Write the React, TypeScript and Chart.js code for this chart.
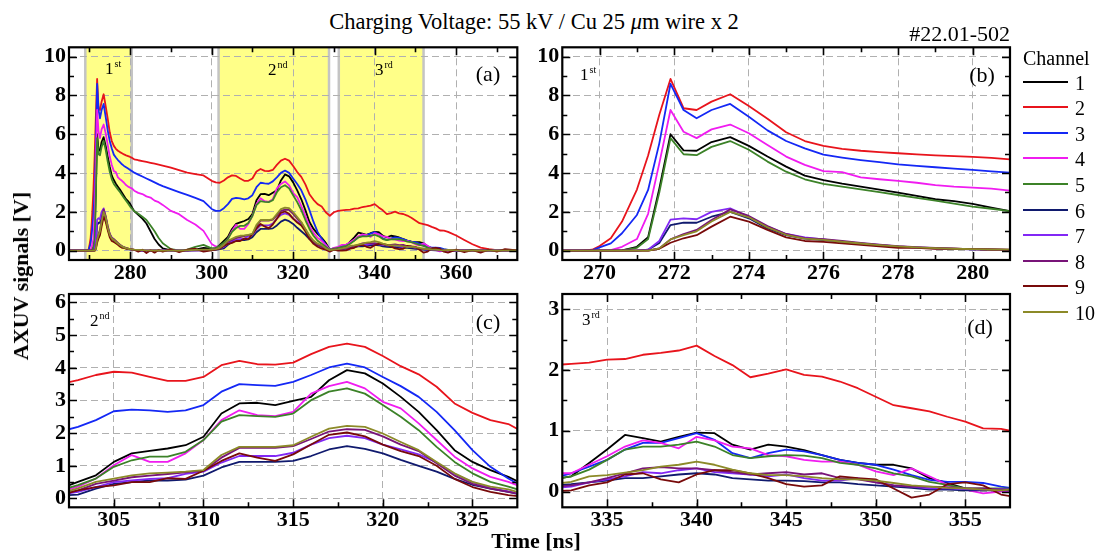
import React, { useEffect, useRef } from "react";
import { Chart, registerables } from "chart.js";

Chart.register(...registerables);

// ---------------- DATA ----------------
const TIME = [
  265, 267, 268.5, 269.5, 269.8, 270, 270.3, 270.6, 271, 271.3, 271.6, 271.9, 272.25, 272.6, 273, 273.5, 274, 274.5, 275, 275.5, 276, 276.5, 277, 277.5, 278, 278.5, 279, 279.5, 280, 280.5, 281,
  282, 283, 284, 285, 286, 287, 288, 290, 292, 294, 296, 298, 300, 301, 302,
  303, 304, 305, 306, 307, 308, 309, 310, 311, 312, 313, 314, 315, 316, 317, 318, 319, 320, 321, 322, 323, 324, 325, 326, 327,
  328, 329, 330, 331, 332,
  333, 334, 335, 336, 337, 338, 339, 340, 341, 342, 343, 344, 345, 346, 347, 348, 349, 350, 351, 352, 353, 354, 355, 356, 357, 358,
  360, 362, 364, 366, 368, 370, 372, 375,
];

const CH1 = [
  0, 0, 0, 0, 0, 0, 0, 0.02, 0.2, 0.7, 3.2, 6.0, 5.17, 5.15, 5.6, 5.85, 5.4, 4.85, 4.33, 3.87, 3.64, 3.45, 3.3, 3.15, 2.99, 2.82, 2.65, 2.55, 2.41, 2.22, 2.04,
  1.85, 1.65, 1.4, 1.0, 0.6, 0.32, 0.12, 0.02, 0.0, 0.02, 0.05, 0.15, 0.1, 0.12, 0.3,
  0.51, 0.71, 1.12, 1.38, 1.46, 1.53, 1.63, 1.89, 2.6, 2.91, 2.93, 2.86, 2.99, 3.11, 3.62, 3.93, 3.83, 3.52, 3.11, 2.65, 2.09, 1.48, 1.12, 0.87, 0.66,
  0.4, 0.05, 0.12, 0.15, 0.2,
  0.25, 0.47, 0.69, 0.93, 0.88, 0.82, 0.9, 0.97, 0.96, 0.77, 0.69, 0.77, 0.74, 0.68, 0.6, 0.52, 0.47, 0.44, 0.44, 0.38, 0.22, 0.14, 0.05, 0.03, 0.03, 0.02,
  0.02, 0.0, 0.03, 0.0, 0.02, 0.0, 0.03, 0.01,
];
const CH2 = [
  0, 0, 0, 0, 0.05, 0.24, 0.64, 1.5, 3.15, 4.9, 7.0, 8.85, 7.34, 7.25, 7.68, 8.06, 7.45, 6.8, 6.1, 5.65, 5.4, 5.25, 5.15, 5.08, 5.02, 4.96, 4.91, 4.87, 4.83, 4.78, 4.71,
  4.66, 4.62, 4.58, 4.53, 4.48, 4.43, 4.38, 4.28, 4.15, 4.02, 3.95, 3.88, 3.6, 3.52, 3.5,
  3.62, 3.78, 3.88, 3.85, 3.72, 3.6, 3.6, 3.72, 4.08, 4.21, 4.11, 4.1, 4.16, 4.42, 4.64, 4.74, 4.64, 4.36, 4.05, 3.8, 3.42, 2.91, 2.62, 2.4, 2.28,
  1.98, 1.8, 1.98, 2.05, 2.08,
  2.1, 2.12, 2.17, 2.18, 2.25, 2.28, 2.32, 2.4, 2.23, 2.08, 1.88, 1.94, 2.01, 1.92, 1.89, 1.81, 1.7, 1.56, 1.42, 1.37, 1.32, 1.23, 1.15, 1.04, 1.03, 0.97,
  0.78, 0.55, 0.33, 0.16, 0.08, 0.03, 0.0, 0.02,
];
const CH3 = [
  0, 0, 0, 0, 0.02, 0.17, 0.38, 0.9, 1.84, 3.13, 5.53, 8.6, 7.25, 6.82, 7.25, 7.56, 6.9, 6.2, 5.65, 5.27, 4.95, 4.8, 4.67, 4.56, 4.45, 4.37, 4.3, 4.23, 4.16, 4.09, 4.02,
  3.92, 3.82, 3.72, 3.62, 3.52, 3.42, 3.33, 3.17, 3.02, 2.88, 2.72, 2.55, 2.15, 2.05, 2.05,
  2.19, 2.4, 2.67, 2.72, 2.7, 2.65, 2.7, 2.86, 3.27, 3.5, 3.47, 3.45, 3.57, 3.78, 4.01, 4.13, 4.01, 3.72, 3.44, 3.11, 2.65, 2.09, 1.48, 0.97, 0.61,
  0.3, 0.05, 0.12, 0.15, 0.22,
  0.3, 0.41, 0.52, 0.69, 0.8, 0.8, 0.88, 0.96, 0.85, 0.63, 0.55, 0.63, 0.69, 0.66, 0.6, 0.52, 0.47, 0.44, 0.36, 0.27, 0.19, 0.16, 0.16, 0.14, 0.08, 0.04,
  0.02, 0.0, 0.03, 0.0, 0.02, 0.0, 0.03, 0.0,
];
const CH4 = [
  0, 0, 0, 0, 0, 0, 0.03, 0.2, 0.6, 1.9, 4.5, 7.25, 6.13, 5.8, 6.25, 6.5, 6.05, 5.45, 4.85, 4.42, 4.1, 4.05, 3.78, 3.68, 3.6, 3.5, 3.38, 3.3, 3.25, 3.2, 3.09,
  2.98, 2.92, 2.8, 2.74, 2.58, 2.5, 2.36, 2.05, 1.88, 1.58, 1.35, 1.02, 0.35, 0.22, 0.2,
  0.36, 0.61, 1.02, 1.33, 1.12, 1.12, 1.38, 1.79, 2.4, 2.7, 2.55, 2.52, 2.65, 3.21, 3.44, 3.57, 3.37, 2.96, 2.76, 2.3, 1.79, 1.28, 0.92, 0.66, 0.51,
  0.3, 0.05, 0.15, 0.2, 0.3,
  0.3, 0.44, 0.58, 0.74, 0.84, 0.8, 0.71, 0.9, 0.84, 0.74, 0.71, 0.6, 0.58, 0.52, 0.49, 0.49, 0.44, 0.33, 0.27, 0.38, 0.25, 0.11, 0.03, -0.03, 0.0, 0.02,
  0.0, 0.03, -0.02, 0.02, 0.0, 0.03, -0.02, 0.01,
];
const CH5 = [
  0, 0, 0, 0, 0, 0, 0, 0.02, 0.15, 0.6, 3.0, 5.8, 4.97, 4.92, 5.35, 5.65, 5.2, 4.59, 4.07, 3.68, 3.44, 3.3, 3.16, 3.02, 2.87, 2.72, 2.58, 2.43, 2.27, 2.16, 2.04,
  1.9, 1.75, 1.58, 1.3, 1.0, 0.65, 0.38, 0.08, 0.02, 0.05, 0.2, 0.3, 0.12, 0.15, 0.25,
  0.41, 0.61, 0.97, 1.17, 1.28, 1.28, 1.43, 1.79, 2.35, 2.55, 2.52, 2.5, 2.6, 3.01, 3.27, 3.37, 3.21, 2.86, 2.5, 2.09, 1.58, 1.12, 0.77, 0.51, 0.36,
  0.2, 0.05, 0.1, 0.15, 0.2,
  0.25, 0.36, 0.52, 0.69, 0.74, 0.74, 0.77, 0.82, 0.74, 0.6, 0.55, 0.58, 0.6, 0.59, 0.55, 0.47, 0.44, 0.38, 0.3, 0.25, 0.16, 0.11, 0.05, 0.05, 0.05, 0.04,
  0.02, 0.0, 0.02, 0.0, 0.01, 0.02, 0.0, 0.01,
];
const CH6 = [
  0, 0, 0, 0, 0, 0, 0, 0, 0, 0.05, 0.4, 1.32, 1.44, 1.44, 1.75, 2.0, 1.67, 1.15, 0.8, 0.62, 0.55, 0.45, 0.36, 0.28, 0.21, 0.16, 0.12, 0.09, 0.07, 0.05, 0.04,
  0.02, 0.01, 0.0, 0.0, 0.01, 0.0, 0.0, 0.02, 0.0, 0.0, 0.02, 0.03, 0.03, 0.05, 0.08,
  0.12, 0.3, 0.45, 0.5, 0.55, 0.55, 0.58, 0.7, 0.95, 1.12, 1.12, 1.12, 1.15, 1.3, 1.5, 1.6, 1.52, 1.38, 1.18, 1.0, 0.82, 0.6, 0.42, 0.3, 0.2,
  0.08, 0.02, 0.05, 0.08, 0.1,
  0.12, 0.15, 0.18, 0.22, 0.22, 0.25, 0.28, 0.3, 0.28, 0.22, 0.2, 0.18, 0.18, 0.17, 0.15, 0.15, 0.12, 0.1, 0.08, 0.06, 0.03, 0.03, 0.02, 0.02, 0.02, 0.02,
  0.01, 0.0, 0.02, 0.0, 0.01, 0.0, 0.02, 0.0,
];
const CH7 = [
  0, 0, 0, 0, 0, 0, 0, 0, 0, 0.05, 0.5, 1.6, 1.67, 1.62, 2.0, 2.18, 1.75, 1.24, 0.86, 0.68, 0.58, 0.47, 0.38, 0.3, 0.22, 0.17, 0.13, 0.1, 0.07, 0.05, 0.03,
  0.02, 0.0, 0.01, 0.0, 0.02, 0.0, 0.01, 0.0, 0.02, 0.0, 0.03, 0.02, 0.05, 0.08, 0.12,
  0.2, 0.35, 0.5, 0.55, 0.6, 0.62, 0.75, 0.82, 1.1, 1.3, 1.3, 1.3, 1.4, 1.65, 1.85, 1.92, 1.85, 1.65, 1.5, 1.35, 1.1, 0.75, 0.5, 0.32, 0.22,
  0.1, 0.03, 0.05, 0.05, 0.06,
  0.08, 0.15, 0.2, 0.25, 0.32, 0.3, 0.35, 0.38, 0.32, 0.3, 0.28, 0.25, 0.28, 0.22, 0.18, 0.18, 0.22, 0.15, 0.1, 0.08, 0.05, 0.05, 0.04, 0.03, 0.04, 0.03,
  0.02, 0.0, -0.02, 0.01, 0.0, 0.02, 0.0, 0.01,
];
const CH8 = [
  0, 0, 0, 0, 0, 0, 0, 0, 0, 0, 0.12, 0.58, 0.86, 1.07, 1.58, 2.13, 1.79, 1.27, 0.86, 0.65, 0.6, 0.5, 0.4, 0.31, 0.23, 0.18, 0.14, 0.1, 0.08, 0.06, 0.04,
  0.03, 0.01, 0.0, 0.02, 0.0, 0.01, 0.0, 0.02, 0.0, 0.01, 0.03, 0.02, 0.04, 0.08, 0.12,
  0.25, 0.45, 0.55, 0.65, 0.7, 0.75, 0.8, 0.85, 1.25, 1.55, 1.55, 1.55, 1.6, 1.82, 2.05, 2.12, 2.1, 1.9, 1.65, 1.45, 1.08, 0.7, 0.45, 0.3, 0.2,
  0.1, 0.03, 0.05, 0.07, 0.08,
  0.1, 0.15, 0.22, 0.3, 0.38, 0.4, 0.38, 0.38, 0.35, 0.32, 0.28, 0.3, 0.32, 0.28, 0.3, 0.22, 0.2, 0.15, 0.1, 0.08, 0.08, 0.07, 0.05, 0.05, 0.03, 0.03,
  0.02, 0.01, 0.0, 0.02, 0.0, 0.01, 0.02, 0.0,
];
const CH9 = [
  0, 0, 0, 0, 0, 0, 0, 0, 0, 0, 0.1, 0.41, 0.64, 0.8, 1.24, 1.75, 1.5, 1.07, 0.69, 0.5, 0.45, 0.38, 0.3, 0.22, 0.15, 0.14, 0.1, 0.1, 0.08, 0.06, 0.05,
  -0.05, 0.05, -0.12, 0.02, -0.1, 0.03, -0.05, 0.08, -0.08, 0.05, 0.1, -0.05, 0.02, 0.05, 0.1,
  0.25, 0.35, 0.4, 0.5, 0.5, 0.62, 0.6, 0.85, 1.15, 1.38, 1.25, 1.15, 1.35, 1.65, 1.95, 2.02, 1.9, 1.65, 1.45, 1.3, 1.0, 0.6, 0.35, 0.2, 0.1,
  0.05, -0.05, 0.05, 0.0, 0.0,
  0.02, 0.1, 0.15, 0.28, 0.3, 0.2, 0.15, 0.28, 0.35, 0.35, 0.3, 0.22, 0.12, 0.08, 0.1, 0.25, 0.22, 0.2, 0.05, -0.1, -0.05, 0.12, 0.15, 0.1, -0.05, -0.1,
  0.05, -0.08, 0.03, -0.1, 0.05, -0.05, 0.08, 0.02,
];
const CH10 = [
  0, 0, 0, 0, 0, 0, 0, 0, 0, 0, 0.12, 0.58, 0.8, 1.0, 1.5, 2.0, 1.72, 1.2, 0.82, 0.62, 0.56, 0.46, 0.37, 0.29, 0.22, 0.17, 0.13, 0.1, 0.08, 0.06, 0.05,
  0.04, 0.03, 0.02, 0.02, 0.01, 0.01, 0.0, 0.0, 0.01, 0.02, 0.04, 0.05, 0.06, 0.08, 0.15,
  0.31, 0.51, 0.61, 0.71, 0.77, 0.79, 0.82, 0.87, 1.33, 1.58, 1.58, 1.58, 1.63, 1.89, 2.14, 2.22, 2.19, 1.99, 1.73, 1.48, 1.12, 0.77, 0.51, 0.36, 0.28,
  0.12, 0.03, 0.06, 0.08, 0.12,
  0.16, 0.25, 0.27, 0.31, 0.35, 0.41, 0.44, 0.49, 0.44, 0.36, 0.3, 0.27, 0.27, 0.25, 0.22, 0.2, 0.2, 0.18, 0.14, 0.1, 0.08, 0.06, 0.05, 0.03, 0.02, 0.04,
  0.02, 0.0, 0.01, 0.02, 0.0, 0.01, 0.0, 0.01,
];

const SERIES = [CH1, CH2, CH3, CH4, CH5, CH6, CH7, CH8, CH9, CH10];
const CHANNELS = ["1", "2", "3", "4", "5", "6", "7", "8", "9", "10"];
const COLORS = ["#000000", "#e8141c", "#1428f5", "#f01cf0", "#3c8228", "#101a6e", "#8228f5", "#781478", "#780a0a", "#8c8a28"];

const BANDS_A: [number, number][] = [[269, 280.4], [301.7, 328.8], [331.2, 352]];

const X_TICKS_A = [280, 300, 320, 340, 360];
const X_MINOR_A = [270, 290, 310, 330, 350, 370];
const X_TICKS_B = [270, 272, 274, 276, 278, 280];
const X_MINOR_B = [271, 273, 275, 277, 279];
const X_TICKS_C = [305, 310, 315, 320, 325];
const X_MINOR_C = [307.5, 312.5, 317.5, 322.5];
const X_TICKS_D = [335, 340, 345, 350, 355];
const X_MINOR_D = [337.5, 342.5, 347.5, 352.5];
const Y_TICKS_AB = [0, 2, 4, 6, 8, 10];
const Y_MINOR_AB = [1, 3, 5, 7, 9];
const Y_TICKS_C = [0, 1, 2, 3, 4, 5, 6];
const Y_MINOR_C = [0.5, 1.5, 2.5, 3.5, 4.5, 5.5];
const Y_TICKS_D = [0, 1, 2, 3];
const Y_MINOR_D = [0.5, 1.5, 2.5];

// ---------------- LAYOUT ----------------
const FONT = "Liberation Serif";
Chart.defaults.font.family = FONT;

const PANELS = [
  { left: 0, top: 40, w: 530, h: 260, pad: { left: 0, top: 7.3, right: 12.7, bottom: 0 }, yW: 69, xH: 40,
    xMin: 265, xMax: 375, yMin: -0.48, yMax: 10.48, xMajor: X_TICKS_A, xMinor: X_MINOR_A, yMajor: Y_TICKS_AB, yMinor: Y_MINOR_AB, bands: BANDS_A },
  { left: 530, top: 40, w: 490, h: 260, pad: { left: 0, top: 7.3, right: 10, bottom: 0 }, yW: 32.3, xH: 40,
    xMin: 269, xMax: 281, yMin: -0.48, yMax: 10.48, xMajor: X_TICKS_B, xMinor: X_MINOR_B, yMajor: Y_TICKS_AB, yMinor: Y_MINOR_AB, bands: [] },
  { left: 0, top: 287, w: 530, h: 266, pad: { left: 0, top: 7, right: 12.7, bottom: 0 }, yW: 69, xH: 45.7,
    xMin: 302.5, xMax: 327.5, yMin: -0.27, yMax: 6.26, xMajor: X_TICKS_C, xMinor: X_MINOR_C, yMajor: Y_TICKS_C, yMinor: Y_MINOR_C, bands: [] },
  { left: 530, top: 287, w: 490, h: 266, pad: { left: 0, top: 7, right: 10, bottom: 0 }, yW: 32.3, xH: 45.7,
    xMin: 332.5, xMax: 357.5, yMin: -0.26, yMax: 3.25, xMajor: X_TICKS_D, xMinor: X_MINOR_D, yMajor: Y_TICKS_D, yMinor: Y_MINOR_D, bands: [] },
];

function makeChart(canvas: HTMLCanvasElement, p: any) {
  const datasets = SERIES.map((vals, i) => ({
    label: CHANNELS[i],
    data: TIME.map((t, k) => ({ x: t, y: vals[k] })),
    borderColor: COLORS[i],
    backgroundColor: COLORS[i],
    borderWidth: 1.8,
    borderJoinStyle: "round" as const,
    pointRadius: 0,
    tension: 0,
    fill: false,
    clip: 0,
    order: 9 - i,
  }));

  const bandsPlugin = {
    id: "bandsPlugin",
    beforeDraw(chart: any) {
      if (!p.bands.length) return;
      const { ctx, chartArea } = chart;
      const xs = chart.scales.x;
      ctx.save();
      for (const [a, b] of p.bands) {
        const xa = xs.getPixelForValue(a);
        const xb = xs.getPixelForValue(b);
        ctx.fillStyle = "#ffff88";
        ctx.fillRect(xa, chartArea.top, xb - xa, chartArea.bottom - chartArea.top);
        ctx.strokeStyle = "#c4c4c4";
        ctx.lineWidth = 2.5;
        ctx.beginPath();
        ctx.moveTo(xa, chartArea.top);
        ctx.lineTo(xa, chartArea.bottom);
        ctx.moveTo(xb, chartArea.top);
        ctx.lineTo(xb, chartArea.bottom);
        ctx.stroke();
      }
      ctx.restore();
    },
  };

  const framePlugin = {
    id: "framePlugin",
    afterDatasetsDraw(chart: any) {
      const { ctx, chartArea: a } = chart;
      const xs = chart.scales.x;
      const ys = chart.scales.y;
      ctx.save();
      ctx.strokeStyle = "#000";
      ctx.lineWidth = 1.6;
      ctx.beginPath();
      const xt = (vals: number[], len: number) => {
        for (const v of vals) {
          const px = Math.round(xs.getPixelForValue(v)) + 0.5;
          ctx.moveTo(px, a.bottom);
          ctx.lineTo(px, a.bottom - len);
          ctx.moveTo(px, a.top);
          ctx.lineTo(px, a.top + len);
        }
      };
      const yt = (vals: number[], len: number) => {
        for (const v of vals) {
          const py = Math.round(ys.getPixelForValue(v)) + 0.5;
          ctx.moveTo(a.left, py);
          ctx.lineTo(a.left + len, py);
          ctx.moveTo(a.right, py);
          ctx.lineTo(a.right - len, py);
        }
      };
      xt(p.xMajor, 8);
      xt(p.xMinor, 5);
      yt(p.yMajor, 8);
      yt(p.yMinor, 5);
      ctx.stroke();
      ctx.lineWidth = 2.2;
      ctx.strokeRect(a.left, a.top, a.right - a.left, a.bottom - a.top);
      ctx.restore();
    },
  };

  const tickFont = { family: FONT, size: 22, weight: "bold" as const };

  return new Chart(canvas, {
    type: "line",
    data: { datasets },
    options: {
      animation: false,
      responsive: false,
      maintainAspectRatio: false,
      devicePixelRatio: 1,
      events: [],
      layout: { padding: p.pad },
      plugins: { legend: { display: false }, tooltip: { enabled: false }, title: { display: false } },
      scales: {
        x: {
          type: "linear",
          min: p.xMin,
          max: p.xMax,
          afterBuildTicks: (ax: any) => {
            ax.ticks = p.xMajor.map((v: number) => ({ value: v }));
          },
          afterFit: (s: any) => {
            s.height = p.xH;
            s.paddingLeft = 0;
            s.paddingRight = 0;
            s.paddingTop = 0;
            s.paddingBottom = 0;
          },
          grid: { color: "#b0b0b0", lineWidth: 1, drawTicks: false },
          border: { display: false, dash: [7, 4] },
          ticks: { font: tickFont, color: "#000", padding: 0, maxRotation: 0, autoSkip: false },
        },
        y: {
          type: "linear",
          min: p.yMin,
          max: p.yMax,
          afterBuildTicks: (ax: any) => {
            ax.ticks = p.yMajor.map((v: number) => ({ value: v }));
          },
          afterFit: (s: any) => {
            s.width = p.yW;
            s.paddingLeft = 0;
            s.paddingRight = 0;
            s.paddingTop = 0;
            s.paddingBottom = 0;
          },
          grid: { color: "#b0b0b0", lineWidth: 1, drawTicks: false },
          border: { display: false, dash: [7, 4] },
          ticks: { font: tickFont, color: "#000", padding: 3, autoSkip: false },
        },
      },
    },
    plugins: [bandsPlugin, framePlugin],
  } as any);
}

const centered = (x: number, y: number, extra: any = {}) => ({
  position: "absolute" as const,
  left: x,
  top: y,
  transform: "translate(-50%, -50%)",
  whiteSpace: "nowrap" as const,
  lineHeight: 1,
  ...extra,
});

const leftMid = (x: number, y: number, extra: any = {}) => ({
  position: "absolute" as const,
  left: x,
  top: y,
  transform: "translate(0, -50%)",
  whiteSpace: "nowrap" as const,
  lineHeight: 1,
  ...extra,
});

function Ordinal({ x, y, n, s }: { x: number; y: number; n: string; s: string }) {
  return (
    <div style={leftMid(x, y, { fontSize: 17 })}>
      {n}
      <span style={{ fontSize: 10, position: "relative", top: -7, marginLeft: 1 }}>{s}</span>
    </div>
  );
}

const LEGEND_TOP = 81.7;
const LEGEND_STEP = 25.56;

export default function App() {
  const r0 = useRef<HTMLCanvasElement>(null);
  const r1 = useRef<HTMLCanvasElement>(null);
  const r2 = useRef<HTMLCanvasElement>(null);
  const r3 = useRef<HTMLCanvasElement>(null);
  const refs = [r0, r1, r2, r3];

  useEffect(() => {
    const charts = PANELS.map((p, i) => makeChart(refs[i].current as HTMLCanvasElement, p));
    return () => charts.forEach((c) => c.destroy());
  }, []);

  return (
    <div
      style={{
        position: "absolute",
        left: 0,
        top: 0,
        width: 1098,
        height: 553,
        background: "#fff",
        fontFamily: '"Liberation Serif", serif',
        color: "#000",
        overflow: "hidden",
      }}
    >
      {PANELS.map((p, i) => (
        <canvas
          key={i}
          ref={refs[i]}
          width={p.w}
          height={p.h}
          style={{ position: "absolute", left: p.left, top: p.top, width: p.w, height: p.h }}
        />
      ))}

      <div style={centered(534, 22, { fontSize: 22.5 })}>
        Charging Voltage: 55 kV / Cu 25 <i>μ</i>m wire x 2
      </div>
      <div style={{ ...centered(1010, 34, { fontSize: 22 }), transform: "translate(-100%, -50%)" }}>#22.01-502</div>

      <div style={centered(21, 276, { fontSize: 22, fontWeight: "bold", transform: "translate(-50%, -50%) rotate(-90deg)" })}>
        AXUV signals [V]
      </div>
      <div style={centered(536, 541, { fontSize: 22, fontWeight: "bold" })}>Time [ns]</div>

      <div style={centered(488, 74, { fontSize: 22 })}>(a)</div>
      <div style={centered(982, 75, { fontSize: 22 })}>(b)</div>
      <div style={centered(488, 322, { fontSize: 22 })}>(c)</div>
      <div style={centered(980, 326.5, { fontSize: 22 })}>(d)</div>

      <Ordinal x={105} y={68} n="1" s="st" />
      <Ordinal x={268} y={69} n="2" s="nd" />
      <Ordinal x={375} y={68.5} n="3" s="rd" />
      <Ordinal x={580} y={74} n="1" s="st" />
      <Ordinal x={90} y={320} n="2" s="nd" />
      <Ordinal x={582} y={319} n="3" s="rd" />

      <div style={leftMid(1023, 57.5, { fontSize: 20 })}>Channel</div>
      {CHANNELS.map((c, i) => {
        const y = LEGEND_TOP + i * LEGEND_STEP;
        return (
          <React.Fragment key={c}>
            <div style={{ position: "absolute", left: 1023, top: y - 1, width: 45, height: 2, background: COLORS[i] }} />
            <div style={leftMid(1075, y + 1, { fontSize: 20 })}>{c}</div>
          </React.Fragment>
        );
      })}
    </div>
  );
}
